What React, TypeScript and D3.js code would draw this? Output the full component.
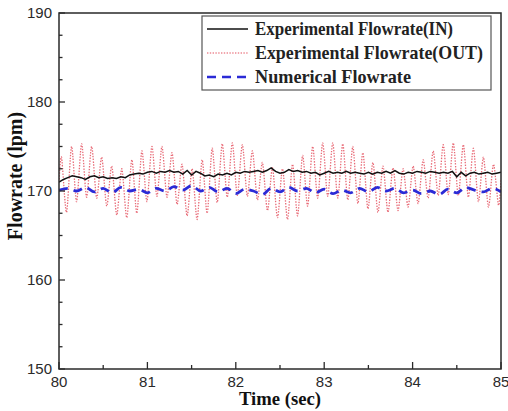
import React from "react";
import * as d3 from "d3";

const W = 508;
const H = 411;
const M = { left: 59, right: 501, top: 13, bottom: 369 };

const xTicks = [80, 81, 82, 83, 84, 85];
const yTicks = [150, 160, 170, 180, 190];

// Experimental OUT: per-cycle peak and trough values (44 cycles over 5 s)
const outPeaks = [
  173.8, 175.0, 175.3, 175.0, 173.8, 172.8, 172.5, 173.5, 174.5, 175.0,
  175.0, 174.3, 173.0, 172.5, 173.5, 174.8, 175.3, 175.4, 175.2, 174.5,
  173.2, 172.6, 172.5, 173.0, 174.0, 175.0, 175.4, 175.4, 175.3, 175.0,
  174.3, 173.2, 172.8, 172.6, 172.5, 172.8, 173.5, 174.5, 175.2, 175.4,
  175.2, 174.8, 173.8, 173.0,
];
const outTroughs = [
  167.6, 168.8, 169.3, 169.2, 168.3, 167.3, 167.0, 167.5, 168.8, 169.4,
  169.3, 168.5, 167.2, 166.8, 167.5, 168.7, 169.3, 169.5, 169.4, 169.0,
  167.8, 167.0, 166.8, 167.2, 168.3, 169.2, 169.4, 169.2, 169.0, 168.6,
  168.0, 167.6, 167.6, 167.8, 168.2, 168.6, 169.2, 169.5, 169.6, 169.5,
  169.3, 168.8, 168.2, 168.4,
];
const outStart = 171.0;
const outEnd = 171.2;

// Experimental IN, sampled every 0.05 s from 80 to 85
const inValues = [
  171.0, 171.3, 171.5, 171.7, 171.6, 171.5, 171.3, 171.6, 171.7, 171.5,
  171.6, 171.4, 171.5, 171.4, 171.6, 171.5, 171.8, 171.9, 172.0, 171.9,
  172.1, 172.2, 172.0, 172.2, 172.1, 172.3, 172.1, 172.2, 171.9, 172.3,
  171.8, 172.2, 172.0, 171.7, 171.8, 171.6, 171.9, 171.8, 172.0, 171.8,
  172.1, 172.0, 172.2, 172.1, 172.2, 172.3, 172.1, 172.3, 172.6, 172.2,
  172.0, 172.1, 172.4, 172.2, 172.3, 172.1, 172.2, 172.0, 172.1, 171.8,
  172.0, 172.2, 172.0, 172.1, 172.0, 172.2, 172.0, 172.1, 172.0, 171.9,
  172.1, 171.9, 172.1, 172.0, 172.2, 172.0, 172.3, 172.0, 171.9, 172.1,
  172.0, 172.2, 172.1, 172.0, 172.2, 172.1, 172.0, 172.1, 172.0, 172.2,
  171.6, 172.1, 171.7, 172.0, 172.1, 171.9, 172.0, 172.1, 171.9, 172.0,
  172.1,
];
const inStep = 0.05;

// Numerical, sampled every 0.1 s from 80 to 85
const numValues = [
  170.1, 170.3, 170.0, 170.4, 169.9, 170.3, 169.8, 170.4, 170.0, 170.2,
  169.8, 170.3, 170.0, 170.5, 170.1, 170.6, 170.0, 170.4, 169.9, 170.3,
  169.7, 170.2, 170.0, 169.6, 170.3, 169.9, 170.4, 170.0, 170.3, 169.8,
  170.2, 169.7, 170.1, 169.8, 170.3, 169.9, 170.4, 170.0, 170.3, 169.8,
  170.1, 169.7, 170.0, 169.6, 170.2, 169.8, 170.4, 170.1, 169.9, 170.3,
  169.9,
];
const numStep = 0.1;

const legendLabels = [
  "Experimental Flowrate(IN)",
  "Experimental Flowrate(OUT)",
  "Numerical Flowrate",
];

export default function App() {
  const x = d3.scaleLinear().domain([80, 85]).range([M.left, M.right]);
  const y = d3.scaleLinear().domain([150, 190]).range([M.bottom, M.top]);

  const period = 5 / outPeaks.length;
  const outData: [number, number][] = [[80, outStart]];
  outPeaks.forEach((p, k) => {
    outData.push([80 + (k + 0.25) * period, p]);
    outData.push([80 + (k + 0.75) * period, outTroughs[k]]);
  });
  outData.push([85, outEnd]);

  const inData: [number, number][] = inValues.map((v, i) => [80 + i * inStep, v]);
  const numData: [number, number][] = numValues.map((v, i) => [80 + i * numStep, v]);

  const lineCard = d3
    .line<[number, number]>()
    .x((d) => x(d[0]))
    .y((d) => y(d[1]))
    .curve(d3.curveCardinal.tension(0.2));
  const lineLin = d3
    .line<[number, number]>()
    .x((d) => x(d[0]))
    .y((d) => y(d[1]));
  const lineMono = d3
    .line<[number, number]>()
    .x((d) => x(d[0]))
    .y((d) => y(d[1]))
    .curve(d3.curveMonotoneX);

  const xMinor = d3.range(80.5, 85, 1);
  const yMinor = d3.range(150, 190.01, 2.5).filter((v) => v % 10 !== 0);

  const axisColor = "#2a2a2a";
  const serif = "'Liberation Serif', 'DejaVu Serif', serif";
  const sans = "'Liberation Sans', Arial, sans-serif";

  const legX = 202;
  const legY = 16;
  const legW = 289;
  const legH = 74;
  const rowY = [29, 53, 77];

  return (
    <svg width={W} height={H} style={{ position: "absolute", left: 0, top: 0, background: "#fff" }}>
      <defs>
        <clipPath id="plotclip">
          <rect x={M.left} y={M.top} width={M.right - M.left} height={M.bottom - M.top} />
        </clipPath>
      </defs>
      <rect x={0} y={0} width={W} height={H} fill="#fff" />

      <g clipPath="url(#plotclip)">
        <path
          d={lineCard(outData) || ""}
          fill="none"
          stroke="#e4505e"
          strokeWidth={1.3}
          strokeDasharray="1.4 1.4"
          opacity={0.85}
        />
        <path d={lineLin(inData) || ""} fill="none" stroke="#111" strokeWidth={1.5} />
        <path
          d={lineMono(numData) || ""}
          fill="none"
          stroke="#2b2bd6"
          strokeWidth={2.8}
          strokeDasharray="9 6"
        />
      </g>

      {/* frame */}
      <rect
        x={M.left}
        y={M.top}
        width={M.right - M.left}
        height={M.bottom - M.top}
        fill="none"
        stroke={axisColor}
        strokeWidth={1.5}
      />

      {/* x ticks */}
      {xTicks.map((t) => (
        <g key={"xt" + t}>
          <line x1={x(t)} x2={x(t)} y1={M.bottom} y2={M.bottom - 7} stroke={axisColor} strokeWidth={1.3} />
          <text x={x(t)} y={387} textAnchor="middle" fontFamily={sans} fontSize={15} fill="#2a2a2a">
            {t}
          </text>
        </g>
      ))}
      {xMinor.map((t) => (
        <line key={"xm" + t} x1={x(t)} x2={x(t)} y1={M.bottom} y2={M.bottom - 4} stroke={axisColor} strokeWidth={1.3} />
      ))}

      {/* y ticks */}
      {yTicks.map((t) => (
        <g key={"yt" + t}>
          <line x1={M.left} x2={M.left + 6} y1={y(t)} y2={y(t)} stroke={axisColor} strokeWidth={1.3} />
          <text x={52} y={y(t) + 5} textAnchor="end" fontFamily={sans} fontSize={15} fill="#2a2a2a">
            {t}
          </text>
        </g>
      ))}
      {yMinor.map((t) => (
        <line key={"ym" + t} x1={M.left} x2={M.left + 3.5} y1={y(t)} y2={y(t)} stroke={axisColor} strokeWidth={1.3} />
      ))}

      {/* axis titles */}
      <text
        x={280}
        y={405}
        textAnchor="middle"
        fontFamily={serif}
        fontWeight="bold"
        fontSize={18}
        textLength={82}
        lengthAdjust="spacingAndGlyphs"
        fill="#111"
      >
        Time (sec)
      </text>
      <text
        transform={`translate(22, ${176}) rotate(-90)`}
        textAnchor="middle"
        fontFamily={serif}
        fontWeight="bold"
        fontSize={20}
        fill="#111"
      >
        Flowrate (lpm)
      </text>

      {/* legend */}
      <rect x={legX} y={legY} width={legW} height={legH} fill="#fff" stroke="#555" strokeWidth={1.2} />
      <line x1={207} x2={248} y1={rowY[0]} y2={rowY[0]} stroke="#111" strokeWidth={1.5} />
      <line x1={207} x2={248} y1={rowY[1]} y2={rowY[1]} stroke="#e4505e" strokeWidth={1.2} strokeDasharray="1.4 1.4" />
      <line x1={207} x2={248} y1={rowY[2]} y2={rowY[2]} stroke="#2b2bd6" strokeWidth={2.4} strokeDasharray="9 6" />
      {legendLabels.map((l, i) => (
        <text
          key={l}
          x={255}
          y={rowY[i] + 6}
          fontFamily={serif}
          fontWeight="bold"
          fontSize={19}
          textLength={[198, 228, 156][i]}
          lengthAdjust="spacingAndGlyphs"
          fill="#222"
        >
          {l}
        </text>
      ))}
    </svg>
  );
}
